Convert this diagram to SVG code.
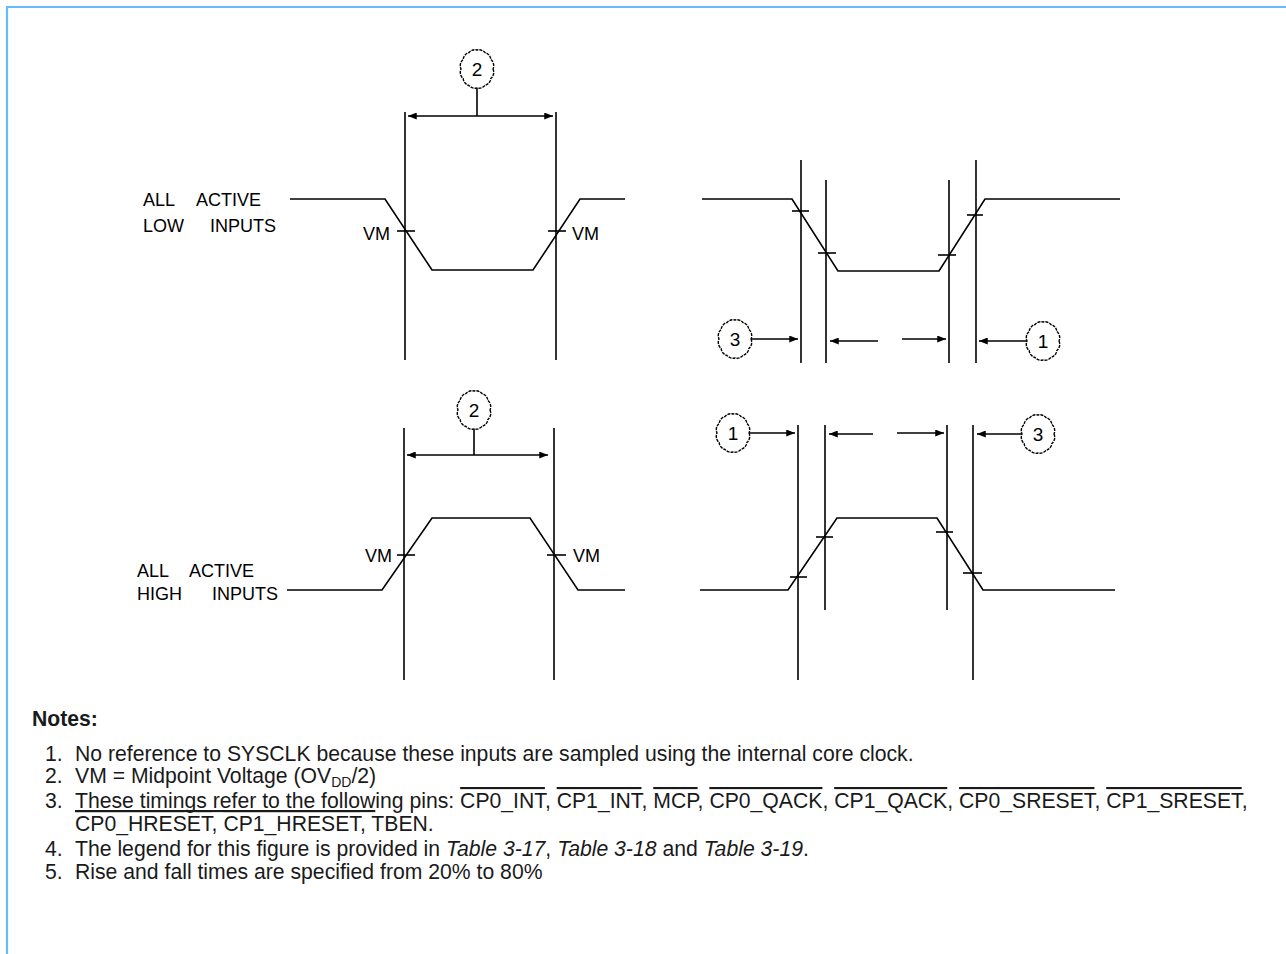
<svg xmlns="http://www.w3.org/2000/svg" xmlns:xlink="http://www.w3.org/1999/xlink" width="1286" height="954" viewBox="0 0 1286 954">
<style>
.w{fill:none;stroke:#000;stroke-width:1.6}
.v{stroke:#000;stroke-width:1.6}
.t{stroke:#000;stroke-width:1.6}
.cl{fill:#fff;stroke:#000;stroke-width:1.4;stroke-dasharray:3 1}
.ar{stroke:#000;stroke-width:1.6;marker-end:url(#ah)}
.lb{font-family:"Liberation Sans",Arial,sans-serif;font-size:18px;fill:#000}
.num{font-family:"Liberation Sans",Arial,sans-serif;font-size:19px;fill:#000;text-anchor:middle}
.n{font-family:"Liberation Sans",Arial,sans-serif;font-size:21.2px;fill:#1a1a1a}
.ov{text-decoration:overline}
</style>
<defs>
<marker id="ah" viewBox="0 0 10 8" refX="10" refY="4" markerWidth="9" markerHeight="7" markerUnits="userSpaceOnUse" orient="auto-start-reverse">
<path d="M0,0 L10,4 L0,8 z" fill="#000"/>
</marker>
<path id="cloud" d="M16,0 A8,8 0 0 1 13.86,9.5 A8,8 0 0 1 8,16.45 A8,8 0 0 1 0,19 A8,8 0 0 1 -8,16.45 A8,8 0 0 1 -13.86,9.5 A8,8 0 0 1 -16,0 A8,8 0 0 1 -13.86,-9.5 A8,8 0 0 1 -8,-16.45 A8,8 0 0 1 0,-19 A8,8 0 0 1 8,-16.45 A8,8 0 0 1 13.86,-9.5 A8,8 0 0 1 16,0 Z"/>
</defs>
<rect width="1286" height="954" fill="#fff"/>
<path d="M7,954 V7 H1286" fill="none" stroke="#66bbff" stroke-width="2.2"/>

<g id="low-wave-left">
<polyline class="w" points="290,199 385,199 432,270 533,270 580,199 625,199"/>
<line class="v" x1="405" y1="112" x2="405" y2="360"/>
<line class="v" x1="556" y1="112" x2="556" y2="360"/>
<line class="t" x1="397" y1="231" x2="415" y2="231"/>
<line class="t" x1="548" y1="231" x2="566" y2="231"/>
<text class="lb" x="143" y="206">ALL</text>
<text class="lb" x="196" y="206">ACTIVE</text>
<text class="lb" x="143" y="232">LOW</text>
<text class="lb" x="210" y="232">INPUTS</text>
<text class="lb" x="390" y="240" text-anchor="end">VM</text>
<text class="lb" x="572" y="240">VM</text>
</g>

<g id="high-wave-left">
<polyline class="w" points="287,590 382,590 432,518 530,518 578,590 625,590"/>
<line class="v" x1="404" y1="428" x2="404" y2="680"/>
<line class="v" x1="554" y1="428" x2="554" y2="680"/>
<line class="t" x1="397" y1="555" x2="415" y2="555"/>
<line class="t" x1="547" y1="555" x2="566" y2="555"/>
<text class="lb" x="137" y="577">ALL</text>
<text class="lb" x="189" y="577">ACTIVE</text>
<text class="lb" x="137" y="600">HIGH</text>
<text class="lb" x="212" y="600">INPUTS</text>
<text class="lb" x="392" y="562" text-anchor="end">VM</text>
<text class="lb" x="573" y="562">VM</text>
</g>

<g id="low-wave-right">
<polyline class="w" points="702,199 792,199 838,271 939,271 985,199 1120,199"/>
<line class="v" x1="801" y1="160" x2="801" y2="363"/>
<line class="v" x1="826" y1="180" x2="826" y2="363"/>
<line class="v" x1="949" y1="180" x2="949" y2="363"/>
<line class="v" x1="976" y1="160" x2="976" y2="363"/>
<line class="t" x1="792" y1="211" x2="809" y2="211"/>
<line class="t" x1="818" y1="253" x2="836" y2="253"/>
<line class="t" x1="938" y1="255" x2="956" y2="255"/>
<line class="t" x1="967" y1="215" x2="983" y2="215"/>
</g>

<g id="high-wave-right">
<polyline class="w" points="700,590 788,590 837,518 937,518 983,590 1115,590"/>
<line class="v" x1="798" y1="425" x2="798" y2="680"/>
<line class="v" x1="825" y1="425" x2="825" y2="610"/>
<line class="v" x1="947" y1="425" x2="947" y2="610"/>
<line class="v" x1="973" y1="425" x2="973" y2="680"/>
<line class="t" x1="790" y1="577" x2="807" y2="577"/>
<line class="t" x1="816" y1="537" x2="833" y2="537"/>
<line class="t" x1="936" y1="532" x2="953" y2="532"/>
<line class="t" x1="963" y1="573" x2="982" y2="573"/>
</g>

<g id="connectors">
<line class="v" x1="477" y1="88" x2="477" y2="116"/>
<line class="v" x1="408" y1="116" x2="553" y2="116" style="marker-start:url(#ah);marker-end:url(#ah)"/>
<line class="v" x1="474" y1="429" x2="474" y2="455"/>
<line class="v" x1="407" y1="455" x2="548" y2="455" style="marker-start:url(#ah);marker-end:url(#ah)"/>
<line class="ar" x1="751" y1="339" x2="798" y2="339"/>
<line class="ar" x1="878" y1="341" x2="830" y2="341"/>
<line class="ar" x1="902" y1="339" x2="946" y2="339"/>
<line class="ar" x1="1027" y1="341" x2="979" y2="341"/>
<line class="ar" x1="749" y1="433" x2="795" y2="433"/>
<line class="ar" x1="873" y1="434" x2="829" y2="434"/>
<line class="ar" x1="897" y1="433" x2="944" y2="433"/>
<line class="ar" x1="1022" y1="434" x2="977" y2="434"/>
</g>

<g id="callout-2-top"><use xlink:href="#cloud" class="cl" transform="translate(477,69)"/><text class="num" x="477" y="76">2</text></g>
<g id="callout-2-bottom"><use xlink:href="#cloud" class="cl" transform="translate(474,410)"/><text class="num" x="474" y="417">2</text></g>
<g id="callout-3-top"><use xlink:href="#cloud" class="cl" transform="translate(735,339)"/><text class="num" x="735" y="346">3</text></g>
<g id="callout-1-top"><use xlink:href="#cloud" class="cl" transform="translate(1043,341)"/><text class="num" x="1043" y="348">1</text></g>
<g id="callout-1-bottom"><use xlink:href="#cloud" class="cl" transform="translate(733,433)"/><text class="num" x="733" y="440">1</text></g>
<g id="callout-3-bottom"><use xlink:href="#cloud" class="cl" transform="translate(1038,434)"/><text class="num" x="1038" y="441">3</text></g>

<g id="notes">
<text class="n" x="32" y="726" font-weight="bold">Notes:</text>
<text class="n" x="45" y="761">1.</text>
<text class="n" x="75" y="761">No reference to SYSCLK because these inputs are sampled using the internal core clock.</text>
<text class="n" x="45" y="783">2.</text>
<text class="n" x="75" y="783">VM = Midpoint Voltage (OV<tspan dy="4" font-size="14">DD</tspan><tspan dy="-4">/2)</tspan></text>
<text class="n" x="45" y="808">3.</text>
<text class="n" x="75" y="808"><tspan style="text-decoration:underline">These timings refer to the follow</tspan>ing pins: <tspan class="ov">CP0_INT</tspan>, <tspan class="ov">CP1_INT</tspan>, <tspan class="ov">MCP</tspan>, <tspan class="ov">CP0_QACK</tspan>, <tspan class="ov">CP1_QACK</tspan>, <tspan class="ov">CP0_SRESET</tspan>, <tspan class="ov">CP1_SRESET</tspan>,</text>
<text class="n" x="75" y="831"><tspan class="ov">CP0_HRESET</tspan>, <tspan class="ov">CP1_HRESET</tspan>, TBEN.</text>
<text class="n" x="45" y="856">4.</text>
<text class="n" x="75" y="856">The legend for this figure is provided in <tspan font-style="italic">Table 3-17</tspan>, <tspan font-style="italic">Table 3-18</tspan> and <tspan font-style="italic">Table 3-19</tspan>.</text>
<text class="n" x="45" y="879">5.</text>
<text class="n" x="75" y="879">Rise and fall times are specified from 20% to 80%</text>
</g>
</svg>
